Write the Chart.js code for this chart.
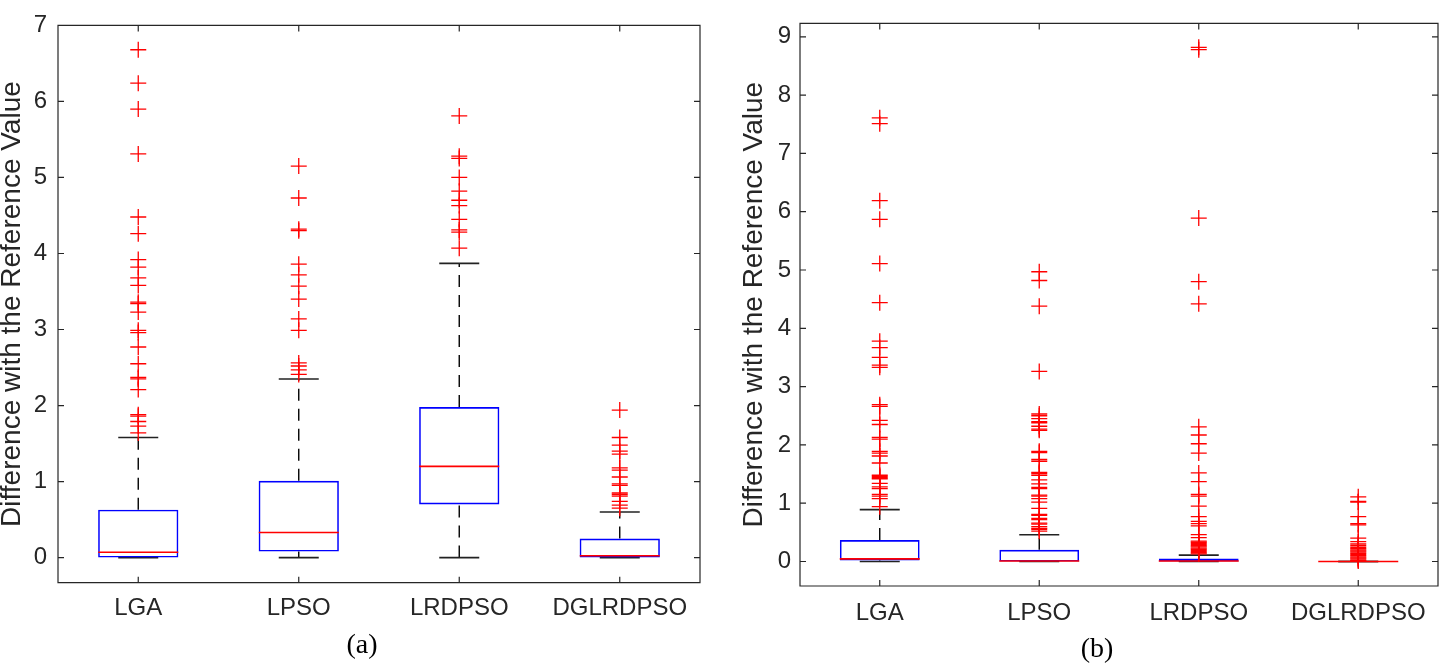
<!DOCTYPE html>
<html>
<head>
<meta charset="utf-8">
<script src="https://cdn.jsdelivr.net/npm/chart.js@4.4.0/dist/chart.umd.min.js"></script>
<style>
  html, body { margin: 0; padding: 0; background: #fff; }
  body { width: 1440px; height: 666px; position: relative; overflow: hidden; }
  canvas { position: absolute; top: 0; }
  #chartA { left: 0; }
  #chartB { left: 720px; }
  .cap { position: absolute; font-family: 'Liberation Serif', 'Times New Roman', serif; font-size: 28px; color: #000; transform: translate(-50%, -50%); line-height: 1; }
</style>
</head>
<body>
<canvas id="chartA" width="720" height="666"></canvas>
<canvas id="chartB" width="720" height="666"></canvas>
<div class="cap" style="left:362px;top:644px">(a)</div>
<div class="cap" style="left:1097px;top:648px">(b)</div>
<script>
const categories = ['LGA', 'LPSO', 'LRDPSO', 'DGLRDPSO'];
const yLabel = 'Difference with the Reference Value';

// panel (a)
const yTicksA = [0, 1, 2, 3, 4, 5, 6, 7];
const q1A  = [0, 0.08, 0.70, 0];
const medA = [0.07, 0.33, 1.20, 0.025];
const q3A  = [0.63, 1.01, 1.98, 0.25];
const loA  = [0, 0, 0, 0];
const hiA  = [1.58, 2.35, 3.87, 0.60];
const outLgaA = [6.68, 6.24, 5.90, 5.31, 4.48, 4.26, 3.92, 3.82, 3.68, 3.58, 3.36, 3.34, 3.23, 2.99, 2.96,
  2.77, 2.55, 2.37, 2.35, 2.21, 1.88, 1.86, 1.79, 1.73, 1.64];
const outLpsoA = [5.15, 4.73, 4.32, 4.30, 3.86, 3.72, 3.57, 3.40, 3.14, 2.99, 2.56, 2.52, 2.47, 2.41];
const outLrdpsoA = [5.81, 5.28, 5.25, 5.00, 4.82, 4.70, 4.63, 4.45, 4.31, 4.28, 4.07];
const outDglA = [1.94, 1.58, 1.48, 1.40, 1.36, 1.18, 1.15, 1.06, 0.97, 0.95, 0.85, 0.83, 0.81, 0.74, 0.69, 0.65];

// panel (b)
const yTicksB = [0, 1, 2, 3, 4, 5, 6, 7, 8, 9];
const q1B  = [0.017, 0, 0, 0];
const medB = [0.045, 0.008, 0.008, 0];
const q3B  = [0.368, 0.20, 0.05, 0];
const loB  = [0, 0, 0, 0];
const hiB  = [0.89, 0.46, 0.11, 0];
const outLgaB = [7.61, 7.51, 6.19, 5.87, 5.11, 4.44, 3.78, 3.67, 3.50, 3.37, 3.33, 2.69, 2.66, 2.42, 2.35,
  2.13, 2.10, 1.89, 1.86, 1.81, 1.69, 1.48, 1.46, 1.44, 1.42, 1.34, 1.28, 1.25, 1.15, 1.12, 1.08, 0.94];
const outLpsoB = [4.97, 4.82, 4.38, 3.26, 2.53, 2.50, 2.45, 2.40, 2.38, 2.32, 2.27, 2.25, 1.89, 1.87, 1.75,
  1.72, 1.53, 1.51, 1.48, 1.40, 1.33, 1.27, 1.25, 1.14, 1.12, 1.08, 1.02, 0.91, 0.81, 0.79, 0.74, 0.72,
  0.66, 0.64, 0.60, 0.57, 0.55, 0.52];
const outLrdpsoB = [8.82, 8.78, 5.89, 4.80, 4.42, 2.31, 2.17, 2.02, 1.86, 1.52, 1.37, 1.15, 1.12, 0.95,
  0.77, 0.69, 0.65, 0.61, 0.46, 0.41, 0.35, 0.33, 0.31, 0.29, 0.27, 0.25, 0.23, 0.21, 0.19, 0.17, 0.15, 0.13];
const outDglB = [1.11, 1.03, 1.02, 0.77, 0.65, 0.63, 0.40, 0.34, 0.30, 0.27, 0.24, 0.22, 0.20, 0.18, 0.16,
  0.14, 0.12, 0.10, 0.08, 0.06, 0.04, 0.02, 0.01];

Chart.defaults.font.family = "'Liberation Sans', Arial, sans-serif";
Chart.defaults.color = '#262626';

// matlab style box with inside ticks on all four sides
const frameTicks = {
  id: 'frameTicks',
  afterDatasetsDraw(chart) {
    const { ctx, chartArea: a, scales: { x, y } } = chart;
    const len = 6;
    ctx.save();
    ctx.strokeStyle = '#262626';
    ctx.lineWidth = 1.2;
    ctx.beginPath();
    ctx.rect(a.left, a.top, a.right - a.left, a.bottom - a.top);
    x.ticks.forEach((t, i) => {
      const px = x.getPixelForTick(i);
      ctx.moveTo(px, a.bottom); ctx.lineTo(px, a.bottom - len);
      ctx.moveTo(px, a.top); ctx.lineTo(px, a.top + len);
    });
    y.ticks.forEach(t => {
      const py = y.getPixelForValue(t.value);
      ctx.moveTo(a.left, py); ctx.lineTo(a.left + len, py);
      ctx.moveTo(a.right, py); ctx.lineTo(a.right - len, py);
    });
    ctx.stroke();
    ctx.restore();
  }
};

function boxDatasets(q1, med, q3, lo, hi, outliers) {
  const whisker = [];
  const caps = [];
  categories.forEach((c, i) => {
    whisker.push({ x: c, y: q3[i] }, { x: c, y: hi[i] }, { x: c, y: null });
    whisker.push({ x: c, y: lo[i] }, { x: c, y: q1[i] }, { x: c, y: null });
    caps.push({ x: c, y: hi[i] }, { x: c, y: lo[i] });
  });
  const outPts = [];
  outliers.forEach((list, i) => {
    list.forEach(v => outPts.push({ x: categories[i], y: v }));
  });

  return [
    {
      type: 'line', data: whisker, order: 6,
      borderColor: '#000', borderWidth: 1.4, borderDash: [12, 8],
      pointRadius: 0, spanGaps: false
    },
    {
      type: 'line', data: caps, order: 5, showLine: false,
      pointStyle: 'line', pointRadius: 20, pointBorderColor: '#222', pointBorderWidth: 1.6
    },
    {
      type: 'bar', order: 4,
      data: categories.map((c, i) => [q1[i], q3[i]]),
      backgroundColor: 'rgba(0,0,0,0)', borderColor: '#0000ff', borderWidth: 1.6,
      borderSkipped: false, barPercentage: 0.5, categoryPercentage: 1.0
    },
    {
      type: 'line', order: 2, showLine: false,
      data: categories.map((c, i) => ({ x: c, y: med[i] })),
      pointStyle: 'line', pointRadius: 40, pointBorderColor: '#ff0000', pointBorderWidth: 1.6
    },
    {
      type: 'line', order: 1, showLine: false, data: outPts,
      pointStyle: 'cross', pointRadius: 8, pointBorderColor: '#ff0000',
      pointBackgroundColor: '#ff0000', pointBorderWidth: 1.3
    }
  ];
}

function makeChart(id, datasets, cfg) {
  return new Chart(document.getElementById(id), {
    type: 'bar',
    data: { labels: categories, datasets },
    options: {
      responsive: false,
      animation: false,
      events: [],
      layout: { autoPadding: false, padding: { left: 0, right: cfg.padRight, top: cfg.padTop, bottom: 0 } },
      plugins: { legend: { display: false }, tooltip: { enabled: false } },
      scales: {
        x: {
          type: 'category', offset: true,
          grid: { display: false, drawTicks: false },
          border: { display: false },
          ticks: { font: { size: 24 }, padding: cfg.xPad, maxRotation: 0, autoSkip: false },
          afterFit: s => { s.height = cfg.xHeight; }
        },
        y: {
          min: cfg.yMin, max: cfg.yMax,
          afterBuildTicks: s => { s.ticks = cfg.yTicks.map(v => ({ value: v })); },
          grid: { display: false, drawTicks: false },
          border: { display: false },
          ticks: { font: { size: 24 }, padding: cfg.yPad },
          title: {
            display: true, text: yLabel,
            font: { size: 28, lineHeight: 0.9 },
            padding: { top: cfg.titlePad, bottom: 0 }
          },
          afterFit: s => { s.width = cfg.yWidth; }
        }
      }
    },
    plugins: [frameTicks]
  });
}

makeChart('chartA',
  boxDatasets(q1A, medA, q3A, loA, hiA, [outLgaA, outLpsoA, outLrdpsoA, outDglA]),
  { yMin: -0.33, yMax: 7, yTicks: yTicksA, padRight: 20, padTop: 8, xHeight: 83.3, xPad: 11,
    yWidth: 58, yPad: 11, titlePad: 0 });

makeChart('chartB',
  boxDatasets(q1B, medB, q3B, loB, hiB, [outLgaB, outLpsoB, outLrdpsoB, outDglB]),
  { yMin: -0.42, yMax: 9.23, yTicks: yTicksB, padRight: 2, padTop: 12.3, xHeight: 80, xPad: 12.6,
    yWidth: 80, yPad: 9, titlePad: 22 });
</script>
</body>
</html>
